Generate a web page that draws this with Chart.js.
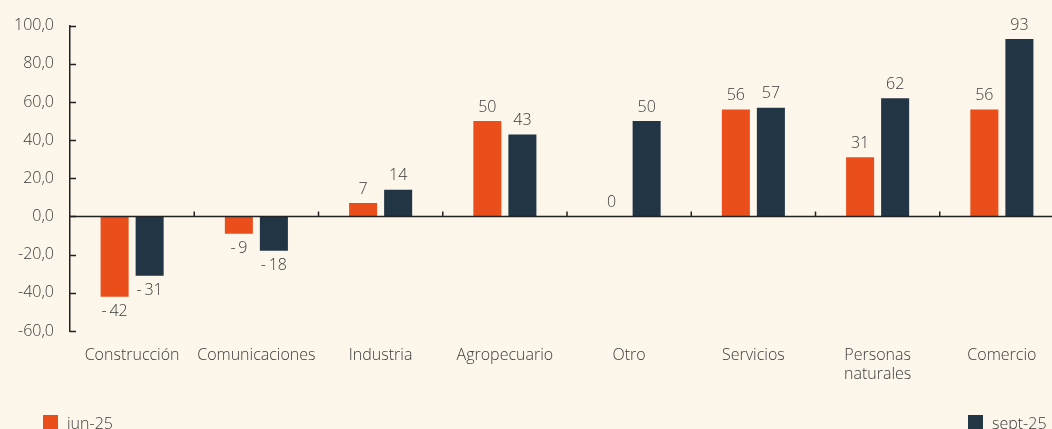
<!doctype html>
<html lang="es">
<head>
    <meta charset="utf-8">
    <title>Variación por sector</title>
    <script src="https://cdn.jsdelivr.net/npm/chart.js"></script>
    <style>
        html, body { margin: 0; padding: 0; background: #fdf6ea; overflow: hidden; }
        #wrap { position: relative; width: 1064px; height: 429px; }
    </style>
</head>
<body>
<div id="wrap"><canvas id="chart"></canvas></div>
<script>
    // sectores y valores por período
    var categories = ['Construcción', 'Comunicaciones', 'Industria', 'Agropecuario', 'Otro', 'Servicios', ['Personas', 'naturales'], 'Comercio'];
    var jun25 = [-42, -9, 7, 50, 0, 56, 31, 56];
    var sept25 = [-31, -18, 14, 43, 50, 57, 62, 93];
    var seriesNames = ['jun-25', 'sept-25'];
    var yTicks = [-60, -40, -20, 0, 20, 40, 60, 80, 100];

    var ORANGE = '#e94e1b';
    var NAVY = '#213545';
    var TEXT = '#3a3a3a';
    var AXIS = '#222222';
    var FONT = '"Open Sans", sans-serif';
    var FONT_SIZE = 16;

    function fmtLabel(v) {
        return v < 0 ? '-\u2009' + Math.abs(v) : String(v);
    }

    // etiquetas de valor, línea de cero, marcas de ejes y leyenda
    var extras = {
        id: 'extras',
        afterDatasetsDraw: function (chart) {
            var ctx = chart.ctx;
            var area = chart.chartArea;
            var y = chart.scales.y;
            var x = chart.scales.x;
            ctx.save();

            // marcas del eje y hacia adentro
            ctx.strokeStyle = AXIS;
            ctx.lineWidth = 1.5;
            yTicks.forEach(function (t) {
                var py = Math.round(y.getPixelForValue(t)) + 0.5;
                ctx.beginPath();
                ctx.moveTo(area.left, py);
                ctx.lineTo(area.left + 6, py);
                ctx.stroke();
            });

            // línea de cero con marcas entre categorías
            var zy = Math.round(y.getPixelForValue(0)) + 0.5;
            ctx.beginPath();
            ctx.moveTo(area.left, zy);
            ctx.lineTo(area.right, zy);
            ctx.stroke();
            for (var i = 1; i < categories.length; i++) {
                var bx = (x.getPixelForValue(i - 1) + x.getPixelForValue(i)) / 2;
                ctx.beginPath();
                ctx.moveTo(bx, zy);
                ctx.lineTo(bx, zy - 5);
                ctx.stroke();
            }

            // valores sobre/bajo las barras
            ctx.fillStyle = TEXT;
            ctx.font = '300 ' + FONT_SIZE + 'px ' + FONT;
            ctx.textAlign = 'center';
            chart.data.datasets.forEach(function (ds, di) {
                var meta = chart.getDatasetMeta(di);
                meta.data.forEach(function (bar, j) {
                    var v = ds.data[j];
                    if (v < 0) {
                        ctx.textBaseline = 'top';
                        ctx.fillText(fmtLabel(v), bar.x, bar.y + 7);
                    } else {
                        ctx.textBaseline = 'bottom';
                        ctx.fillText(fmtLabel(v), bar.x, bar.y - 6);
                    }
                });
            });

            // leyenda
            ctx.textAlign = 'left';
            ctx.textBaseline = 'middle';
            ctx.fillStyle = ORANGE;
            ctx.fillRect(43, 415, 15, 15);
            ctx.fillStyle = TEXT;
            ctx.fillText(seriesNames[0], 67, 424);
            ctx.fillStyle = NAVY;
            ctx.fillRect(968, 415, 15, 15);
            ctx.fillStyle = TEXT;
            ctx.fillText(seriesNames[1], 992, 424);
            ctx.restore();
        }
    };

    new Chart(document.getElementById('chart'), {
        type: 'bar',
        data: {
            labels: categories,
            datasets: [
                { label: seriesNames[0], data: jun25, backgroundColor: ORANGE },
                { label: seriesNames[1], data: sept25, backgroundColor: NAVY }
            ]
        },
        options: {
            responsive: true,
            maintainAspectRatio: false,
            animation: false,
            layout: { padding: { top: 25, right: 0, left: 0, bottom: 0 } },
            datasets: { bar: { categoryPercentage: 0.564, barPercentage: 0.8 } },
            plugins: { legend: { display: false }, tooltip: { enabled: false } },
            scales: {
                x: {
                    grid: { display: false },
                    border: { display: false },
                    ticks: { color: TEXT, font: { family: FONT, size: FONT_SIZE, weight: 300, lineHeight: 1.2 }, padding: 7, maxRotation: 0, autoSkip: false },
                    afterFit: function (s) { s.height = 98; }
                },
                y: {
                    min: -60,
                    max: 100,
                    afterBuildTicks: function (s) { s.ticks = yTicks.map(function (v) { return { value: v }; }); },
                    grid: { display: false, drawTicks: false },
                    border: { display: true, color: AXIS, width: 1.5 },
                    ticks: {
                        color: TEXT,
                        font: { family: FONT, size: FONT_SIZE, weight: 300 },
                        padding: 16,
                        callback: function (v) { return v.toFixed(1).replace('.', ','); }
                    },
                    afterFit: function (s) { s.width = 70; }
                }
            }
        },
        plugins: [extras]
    });
</script>
</body>
</html>
